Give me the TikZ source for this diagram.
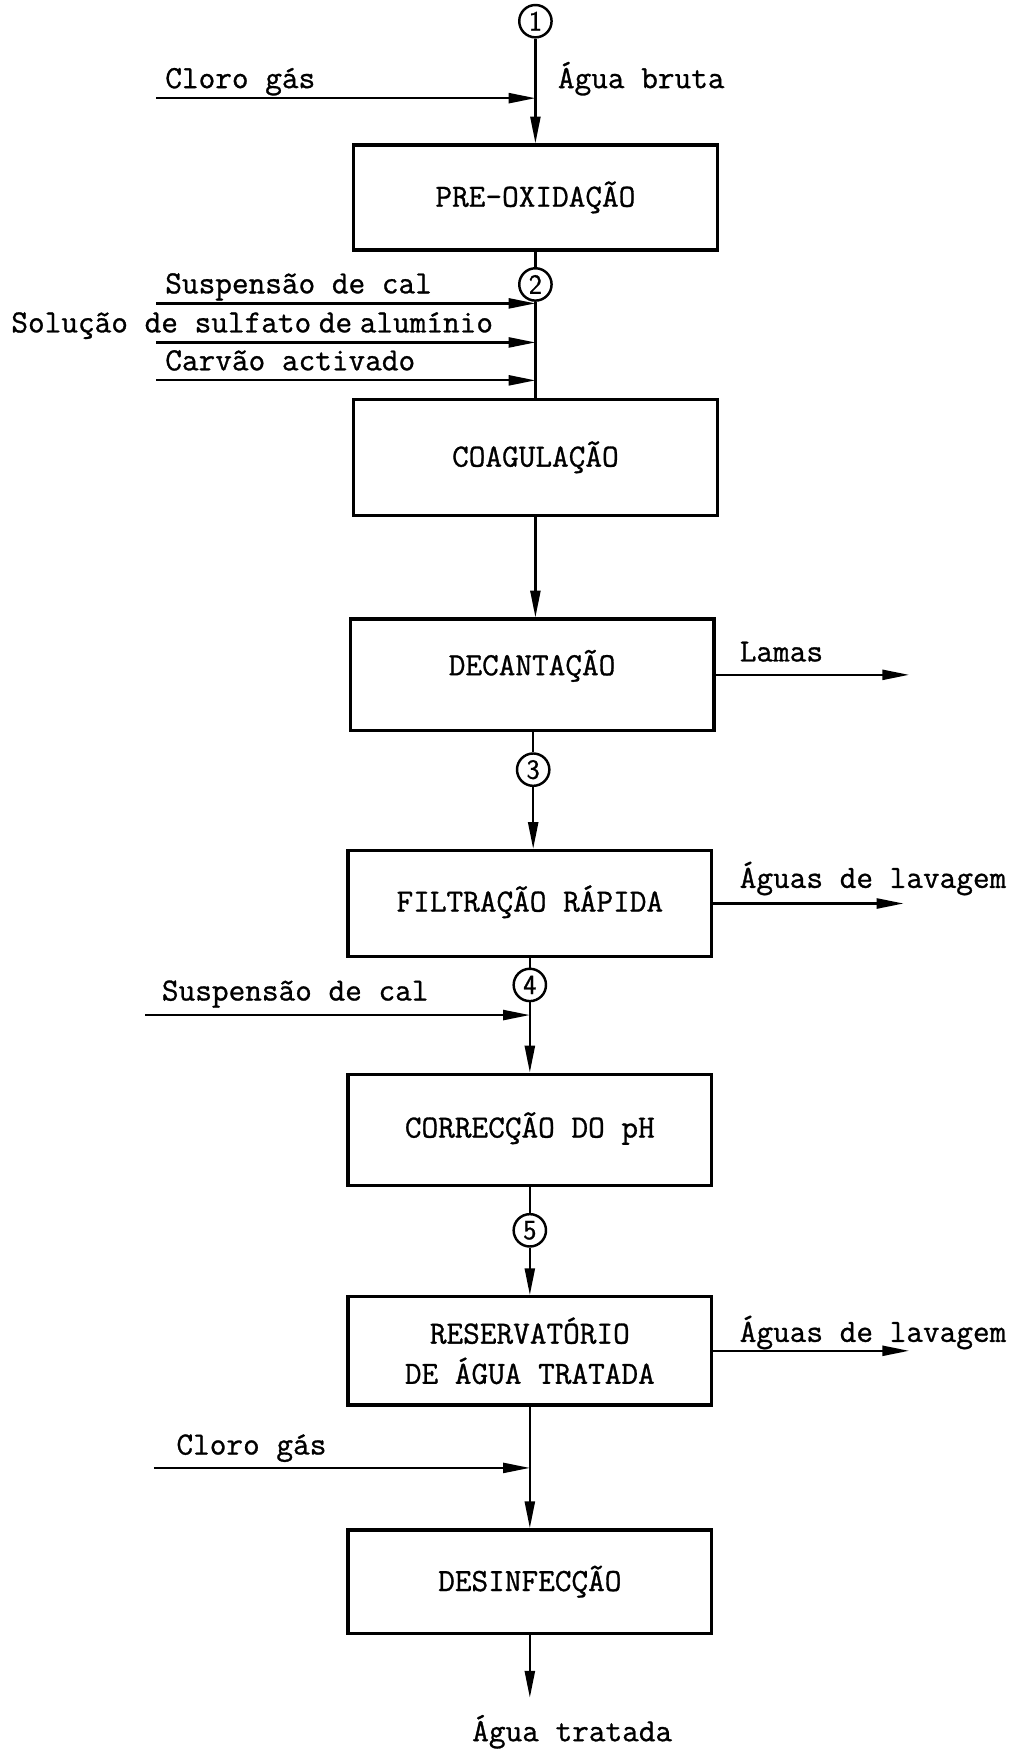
\documentclass[tikz,border=0pt]{standalone}
\usepackage{fontspec}
\newfontfamily\twfont{Latin Modern Mono}[FakeBold=0.9]
\newfontfamily\numfont{Latin Modern Sans}[FakeBold=0.9]
\usetikzlibrary{arrows.meta}
\begin{document}
\begin{tikzpicture}[x=1pt,y=-1pt,
  every node/.style={font=\fontsize{29}{36}\selectfont\twfont},
  box/.style={draw, line width=3pt, minimum width=326pt, inner sep=0pt, align=center},
  num/.style={draw, circle, line width=2.2pt, minimum size=29pt, inner sep=0pt, font=\fontsize{25}{25}\selectfont\numfont},
  flow/.style={line width=2pt, -{Triangle[length=24pt,width=9pt]}},
  link/.style={line width=2pt},
  lbl/.style={anchor=base west, inner sep=0pt},
]
\useasboundingbox (0,0) rectangle (908,1568);

% process boxes
\node[box, minimum height=94pt]  (b1) at (480,177)  {PRE-OXIDAÇÃO};
\node[box, minimum height=104pt] (b2) at (480,410)  {COAGULAÇÃO};
\node[box, minimum height=100pt] (b3) at (477,605)  {\raisebox{22pt}{DECANTAÇÃO}};
\node[box, minimum height=95pt]  (b4) at (475,810)  {\raisebox{9pt}{FILTRAÇÃO RÁPIDA}};
\node[box, minimum height=100pt] (b5) at (475,1013) {\raisebox{9pt}{CORRECÇÃO DO pH}};
\node[box, minimum height=97pt]  (b6) at (475,1211) {RESERVATÓRIO\\DE ÁGUA TRATADA};
\node[box, minimum height=93pt]  (b7) at (475,1418) {DESINFECÇÃO};

% numbered points
\node[num] (c1) at (480,19)   {1};
\node[num] (c2) at (480,255)  {2};
\node[num] (c3) at (478,690)  {3};
\node[num] (c4) at (475,883)  {4};
\node[num] (c5) at (475,1103) {5};

% labels
\node[lbl] (t1)  at (148,79)   {Cloro gás};
\node[lbl] (t2)  at (500,79)   {Água bruta};
\node[lbl] (t3)  at (148,263)  {Suspensão de cal};
\node[lbl] (t4)  at (10,298)   {Solução de sulfato\hspace{-0.28em} de\hspace{-0.28em} alumínio};
\node[lbl] (t5)  at (148,332)  {Carvão activado};
\node[lbl] (t6)  at (663,593)  {Lamas};
\node[lbl] (t7)  at (663,796)  {Águas de lavagem};
\node[lbl] (t8)  at (145,897)  {Suspensão de cal};
\node[lbl] (t9)  at (663,1203) {Águas de lavagem};
\node[lbl] (t10) at (158,1304) {Cloro gás};
\node[anchor=base, inner sep=0pt] (t11) at (513,1561) {Água tratada};

% free ends
\coordinate (s1) at (140,88);
\coordinate (s2) at (140,272);
\coordinate (s3) at (140,307);
\coordinate (s4) at (140,341);
\coordinate (s5) at (130,910);
\coordinate (s6) at (138,1316);
\coordinate (o1) at (815,605);
\coordinate (o2) at (810,810);
\coordinate (o3) at (815,1211);
\coordinate (o4) at (475,1522);

% main line
\draw[flow] (c1) -- (b1);
\draw[link] (b1) -- (c2);
\draw[link] (c2) -- (c2 |- b2.north);
\draw[flow] (b2.south) -- (b2.south |- b3.north);
\draw[link] (c3 |- b3.south) -- (c3);
\draw[flow] (c3) -- (c3 |- b4.north);
\draw[link] (c4 |- b4.south) -- (c4);
\draw[flow] (c4) -- (c4 |- b5.north);
\draw[link] (c5 |- b5.south) -- (c5);
\draw[flow] (c5) -- (c5 |- b6.north);
\draw[flow] (b6) -- (b7);
\draw[flow] (b7) -- (o4);

% additions
\draw[flow] (s1) -- (s1 -| c1);
\draw[flow] (s2) -- (s2 -| c2);
\draw[flow] (s3) -- (s3 -| c2);
\draw[flow] (s4) -- (s4 -| c2);
\draw[flow] (s5) -- (s5 -| c4);
\draw[flow] (s6) -- (s6 -| b7);

% outputs
\draw[flow] (b3.east) -- (o1);
\draw[flow] (b4.east) -- (o2);
\draw[flow] (b6.east) -- (o3);
\end{tikzpicture}
\end{document}
